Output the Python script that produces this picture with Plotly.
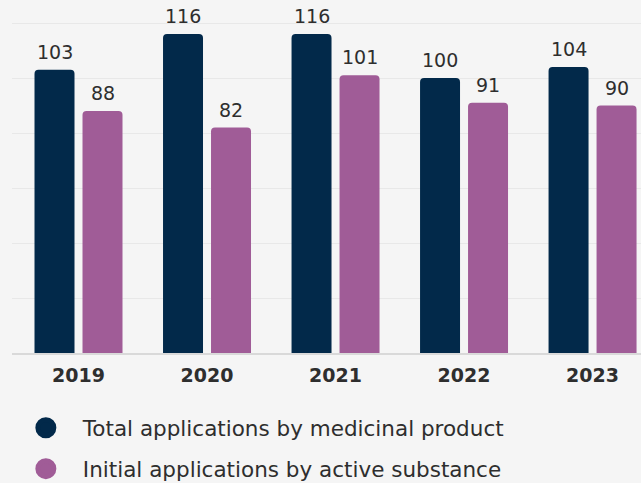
import plotly.graph_objects as go

years = ["2019", "2020", "2021", "2022", "2023"]
total_by_product = [103, 116, 116, 100, 104]
initial_by_substance = [88, 82, 101, 91, 90]
series_names = ["Total applications by medicinal product",
                "Initial applications by active substance"]
colors = ["#02294a", "#a05c97"]

FONT = "Verdana, DejaVu Sans, sans-serif"
TXT = "#2e2e2e"

fig = go.Figure()
for name, vals, col in zip(series_names, [total_by_product, initial_by_substance], colors):
    fig.add_trace(go.Bar(
        x=years, y=vals, name=name, marker=dict(color=col, line=dict(width=0)),
        cliponaxis=False, showlegend=False))

# value labels placed through the axes (category index), shifted to the bar within each group
for vals, xs in zip([total_by_product, initial_by_substance], [-24, 24]):
    for i, v in enumerate(vals):
        fig.add_annotation(x=i, y=v, xref="x", yref="y", text=str(v),
                           showarrow=False, yanchor="bottom", xshift=xs, yshift=5,
                           font=dict(family=FONT, size=19, color=TXT))

for i, (name, col) in enumerate(zip(series_names, colors)):
    fig.add_trace(go.Scatter(
        x=[None], y=[None], mode="markers", name=name, legendgroup=str(i),
        marker=dict(symbol="circle", size=16, color=col, line=dict(color=col, width=5))))

fig.update_layout(
    width=641, height=483,
    margin=dict(l=12, r=0, t=0, b=130, autoexpand=False),
    paper_bgcolor="#f5f5f5", plot_bgcolor="#f5f5f5",
    barmode="group", bargap=0.253, bargroupgap=0.167,
    barcornerradius=4,
    font=dict(family=FONT, color=TXT),
    showlegend=True,
    legend=dict(orientation="v", x=-0.005, xanchor="left", y=-0.1537, yanchor="top",
                font=dict(family=FONT, size=21.5, color=TXT),
                tracegroupgap=10, itemwidth=64, bgcolor="rgba(0,0,0,0)"),
)
fig.update_xaxes(type="category", range=[-0.5175, 4.377], showgrid=False,
                 showline=True, linecolor="#d9d9d9", linewidth=2, automargin=False,
                 tickfont=dict(family=FONT, size=19, color=TXT, weight="bold"),
                 ticks="", ticklabelstandoff=4)
fig.update_yaxes(range=[0, 128.4], showgrid=True, gridcolor="#e8e8e8", gridwidth=1,
                 dtick=20, showticklabels=False, zeroline=False, showline=False,
                 automargin=False)

fig.write_html("out.html", config={"displayModeBar": False},
               post_script="document.body.style.margin='0px';")
